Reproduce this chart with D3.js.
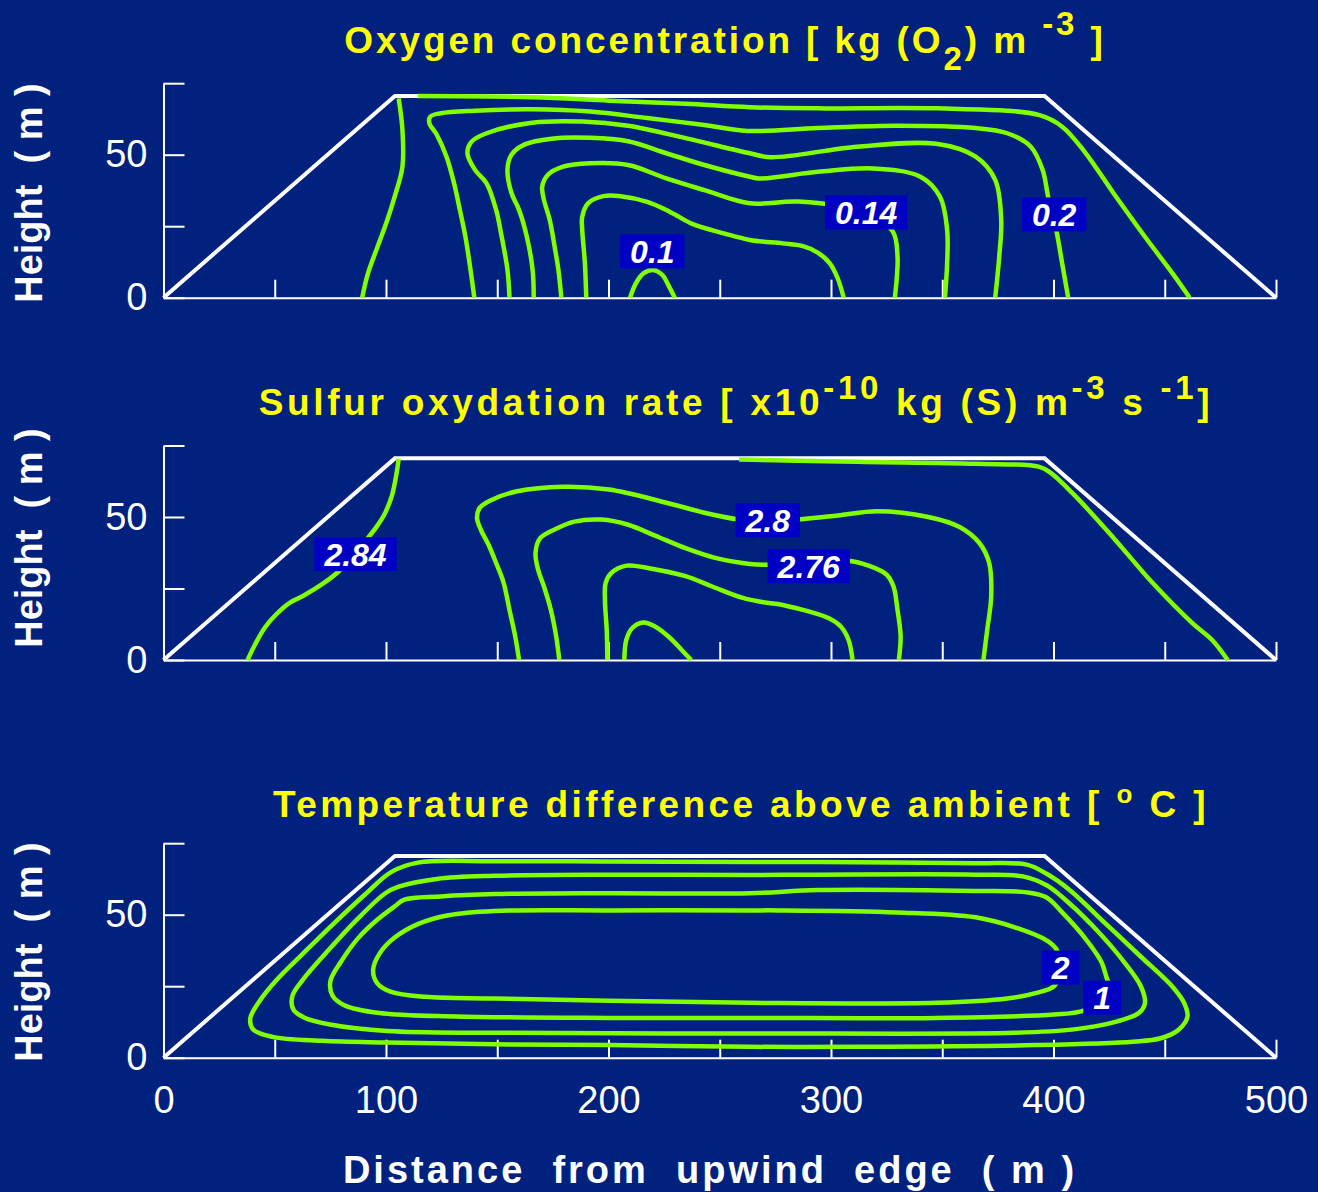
<!DOCTYPE html>
<html>
<head>
<meta charset="utf-8">
<script src="https://cdn.jsdelivr.net/npm/d3@7"></script>
<style>
  body { margin: 0; background: #00217e; }
  svg { display: block; font-family: "Liberation Sans", Arial, sans-serif; }
</style>
</head>
<body>
<svg id="chart" width="1318" height="1192"></svg>
<script>
// axes (distance / height in m)
const xTicks = [0, 50, 100, 150, 200, 250, 300, 350, 400, 450, 500];
const xTickLabels = [0, 100, 200, 300, 400, 500];
const yTicks = [0, 25, 50, 75];
const yTickLabels = [0, 50];

// pile cross section
const pileOutline = [[0, 0], [104, 70.5], [396, 70.5], [500, 0]];

// oxygen concentration contours
const oxA = [[89.3, 0], [91.9, 8.5], [96.2, 17.8], [100.6, 27.2], [103.9, 35.3], [107.4, 45.8], [107.4, 58.6], [105.7, 69.7]];
const oxB = [[114.3, 70.5], [165.9, 70.1], [200.2, 68.9], [234.6, 67.8], [263.5, 66.6], [294.2, 66.2], [347.3, 66.2], [393.3, 63.9], [403.9, 59.8], [414.5, 50.5], [427, 36.5], [441.1, 21.3], [453.5, 8.5], [461.2, 0]];
const oxC = [[139.7, 0], [138, 9.7], [135.7, 21.3], [133.2, 30.7], [130.6, 40], [127.2, 49.3], [122.9, 56.9], [119.5, 61], [119.9, 63.3], [124.6, 64.5], [140, 65.4], [165.7, 65.9], [191.7, 65.1], [217.4, 62.8], [243.1, 60.4], [262.3, 58.3], [294.2, 59.3], [329.6, 60.1], [365, 59.3], [379.2, 57.5], [389.8, 52.8], [395.1, 44.7], [397.7, 34.9], [401.3, 23.4], [403.9, 12], [406.6, 0]];
const oxD = [[155.5, 0], [154.6, 9.7], [152, 21.3], [149.5, 30.7], [145.2, 40], [140.1, 44.6], [136.6, 50.5], [138.4, 54.5], [145.2, 57.5], [165.7, 61.2], [188.2, 61.6], [208.8, 60.1], [234.6, 55.8], [263.5, 50.5], [272.9, 49.1], [311.8, 52.8], [347.3, 53.8], [365, 49.3], [373.8, 41.2], [376.5, 27.1], [375.6, 14.3], [373.8, 0]];
const oxE = [[166.4, 0], [165.9, 9.7], [163.3, 21.3], [159.8, 30.7], [156.4, 36.6], [154.6, 44.8], [156.4, 50], [162.4, 53.6], [174.4, 55.6], [191.7, 55.9], [208.8, 54.7], [226, 50.5], [243.1, 46.4], [263.5, 42.3], [267.6, 41.7], [294.2, 44], [318.9, 45.2], [340.2, 42.3], [349, 35.3], [352.2, 23.7], [352.2, 12.1], [351.2, 0]];
const oxF = [[178.8, 0], [177.5, 9.7], [175.8, 17.8], [173.6, 27.2], [171, 34.2], [170.2, 38.8], [172.7, 42.9], [179.6, 45.8], [191.7, 47], [208.8, 46.4], [226, 41.7], [243.1, 37.6], [263.5, 33], [285.3, 33.6], [315.1, 29.9], [327.8, 23.1], [329.9, 14.3], [329.6, 7.3], [328.7, 0]];
const oxG = [[190, 0], [189.4, 12], [188.2, 23.7], [188.2, 28.3], [190.8, 33], [197.7, 35.5], [205.4, 35.5], [217.4, 33.5], [227.7, 30], [237.9, 25.7], [251.8, 22.5], [263.5, 20.2], [278.2, 19], [287, 18.1], [294.2, 15.7], [299.5, 12], [303, 6.8], [305.7, 0]];
const oxDome = [[209.7, 0], [212.3, 5], [215.7, 8.5], [220, 9.7], [224.3, 7.9], [226.9, 4.4], [229.8, 0]];
const oxLabels = [['0.1', 219.7, 16.2], ['0.14', 315.8, 29.8], ['0.2', 400.3, 29.1]];

// sulfur oxydation rate contours
const soP = [[37.8, 0], [41.2, 5.5], [45.5, 11.3], [50.7, 16], [56.7, 20], [62.7, 22.4], [71.3, 26.5], [78.2, 30.6], [86, 36.8], [91.9, 42.7], [95.4, 46.2], [99.2, 50.8], [102.6, 57.3], [104.8, 65.5], [105.7, 70.4]];
const soQ = [[258.7, 70.1], [311.8, 69.3], [365, 68.6], [393.3, 67.6], [398.6, 65.5], [409.2, 57.8], [427, 42.7], [444.6, 26.9], [462.4, 12.9], [471.3, 7], [478.3, 0]];
const soR = [[159.8, 0], [158.1, 8.2], [155.5, 17.5], [152.9, 26.9], [149.5, 33.9], [146.1, 40.3], [142.6, 45.6], [140.9, 49.7], [142.1, 53.2], [146.9, 55.8], [159, 59], [179.6, 60.6], [200.2, 59.6], [226, 55], [243.1, 51.5], [258.7, 49.1], [271.6, 48.4], [285.3, 49.1], [303, 50.5], [320.7, 52], [343.7, 50], [357.8, 46.5], [366.7, 40.9], [371.1, 33.9], [372, 22.2], [370.2, 10.5], [368.5, 0]];
const soS = [[177.9, 0], [176.5, 8.2], [174.1, 17.5], [171, 25.7], [168.4, 31.5], [167.2, 37.4], [169.3, 42.6], [176.2, 45.8], [184.7, 48.4], [196.8, 49.1], [208.8, 47.3], [220.9, 43.5], [234.6, 39.1], [248.4, 35.6], [263.5, 33.6], [271.9, 33.3], [289.5, 34], [306.9, 34.8], [317.2, 32.9], [325.1, 29.8], [328.1, 25.7], [329.9, 17.5], [331.3, 8.2], [330.5, 0]];
const soT = [[199.5, 0], [199.2, 10.5], [198.4, 21], [198.7, 26.9], [201.2, 30.4], [208.1, 33], [217.6, 32.2], [234.6, 29.3], [246.6, 25.7], [260.4, 21.7], [272, 19.9], [276, 19.6], [299.1, 14.6], [304.4, 11.7], [307.9, 7], [309.7, 0]];
const soDome = [[207.1, 0], [208, 7], [210.6, 11.1], [215.7, 13.1], [220.9, 11.7], [227.8, 7.6], [232.9, 3.5], [237.2, 0]];
const soLabels = [['2.84', 86.3, 37], ['2.8', 271.6, 48.9], ['2.76', 290, 32.8]];

// temperature difference contours (closed)
const tL1 = [[263.5, 68.4], [200.2, 68.6], [148.6, 68.7], [114.3, 68.2], [102.3, 64.9], [90.2, 56.8], [76.5, 46.9], [62.7, 36.4], [50.7, 27.1], [42.9, 19.5], [39, 13.7], [40.3, 9.9], [48.9, 7.3], [71.3, 5.9], [100.6, 5.3], [148.6, 4.7], [200.2, 4.4], [263.5, 3.8], [311.8, 3.8], [391.5, 4.4], [435.8, 5.6], [448.2, 6.8], [456.1, 9.7], [460.2, 14.3], [458.8, 19], [453.5, 24.8], [439.3, 35.3], [423.4, 46.9], [407.5, 58.5], [396.9, 64.3], [388, 67.5], [365, 68], [294.2, 68.4]];
const tL2 = [[263.5, 63.9], [200.2, 64], [148.6, 63.6], [122.8, 62.5], [105.7, 59.8], [99.7, 57.5], [86.8, 48.2], [73, 36.6], [62.7, 27.3], [57.9, 21.5], [58.4, 16.8], [63.6, 13.9], [74.8, 11.6], [100.6, 9.3], [148.6, 8.7], [263.5, 8.5], [382.6, 8.7], [409.2, 9.9], [428.7, 12.7], [438.5, 15.7], [441.1, 19.1], [439.3, 24.9], [432.2, 33], [418, 45.8], [403.9, 56.2], [396.9, 60.3], [386.2, 63.4], [365, 64], [294.2, 64]];
const tL3 = [[263.5, 57.5], [200.2, 57.5], [148.6, 57.2], [124.6, 56.4], [108.2, 55.3], [103.9, 52.9], [96.2, 48.3], [87.6, 41.9], [79.9, 33.7], [75, 26.7], [76.1, 21.5], [81.6, 18.2], [97.1, 15.6], [131.5, 14.4], [200.2, 13.9], [263.5, 13.9], [347.3, 13.9], [400.4, 15.1], [412.4, 16.2], [428.7, 21.3], [424.3, 27.1], [421.6, 33.4], [414.5, 41.5], [403.9, 50.8], [396.9, 56], [388, 57.8], [365, 58.3], [294.2, 58.6]];
const tL4 = [[263.5, 51.5], [200.2, 51.5], [148.6, 51.3], [128, 49.8], [114.3, 46.7], [103.9, 42], [97.1, 36.4], [94.2, 30.6], [96.2, 25.9], [102.3, 23], [117.7, 21.3], [148.6, 20.7], [200.2, 19.9], [263.5, 19.2], [347.3, 19.2], [379.2, 20.7], [391.5, 22.5], [400.4, 25.1], [403.9, 31.7], [401.3, 37.9], [396.9, 41], [382.6, 45.6], [364.9, 49.1], [329.6, 50.8], [276.4, 51.5]];
const tempLabels = [['2', 403.2, 31.5], ['1', 421.9, 21]];

// titles: [text, 'n' | 'sub' | 'sup']
const oxTitle = [['Oxygen concentration [ kg (O', 'n'], ['2', 'sub'], [') m ', 'n'], ['-3', 'sup'], [' ]', 'n']];
const soTitle = [['Sulfur oxydation rate [ x10', 'n'], ['-10', 'sup'], [' kg (S) m', 'n'], ['-3', 'sup'], [' s ', 'n'], ['-1', 'sup'], [']', 'n']];
const tempTitle = [['Temperature difference above ambient [ ', 'n'], ['o', 'sup'], [' C ]', 'n']];

const green = '#80ff00';
const svg = d3.select('#chart');
const x = d3.scaleLinear().domain([0, 500]).range([163.5, 1276]);

const panels = [
  { base: 297.7, title: oxTitle, titleX: 725, titleY: 53, spacing: 2.9, supShift: -18, lines: [oxA, oxB, oxC, oxD, oxE, oxF, oxG, oxDome], loops: [], labels: oxLabels, yLabelY: 193 },
  { base: 660, title: soTitle, titleX: 736, titleY: 415, spacing: 3.7, supShift: -16, lines: [soP, soQ, soR, soS, soT, soDome], loops: [], labels: soLabels, yLabelY: 538 },
  { base: 1057.7, title: tempTitle, titleX: 741, titleY: 817, spacing: 3.4, supShift: -14, lines: [], loops: [tL1, tL2, tL3, tL4], labels: tempLabels, yLabelY: 952, xLabels: true }
];

svg.append('rect').attr('width', 1318).attr('height', 1192).attr('fill', '#00217e');

function drawPanel(p) {
  let g = svg.append('g').attr('class', 'panel');
  let y = d3.scaleLinear().domain([0, 75]).range([p.base, p.base - 214.5]);

  // axes
  let xAxis = g.append('g')
    .attr('transform', `translate(0,${p.base})`)
    .call(d3.axisBottom(x).tickValues(xTicks).tickSizeInner(-18).tickSizeOuter(0).tickPadding(28)
      .tickFormat(d => p.xLabels && xTickLabels.includes(d) ? d : ''));
  let yAxis = g.append('g')
    .attr('transform', `translate(${x(0)},0)`)
    .call(d3.axisLeft(y).tickValues(yTicks).tickSizeInner(-21).tickSizeOuter(0).tickPadding(16)
      .tickFormat(d => yTickLabels.includes(d) ? d : ''));
  [xAxis, yAxis].forEach(a => {
    a.attr('font-family', null).attr('font-size', null);
    a.selectAll('line, path').attr('stroke', '#fff').attr('stroke-width', 2);
    a.selectAll('text').attr('fill', '#fff').style('font-size', '38px');
  });

  // pile outline
  g.append('path')
    .datum(pileOutline)
    .attr('d', d3.line().x(d => x(d[0])).y(d => y(d[1])))
    .attr('fill', 'none')
    .attr('stroke', '#fff')
    .attr('stroke-width', 4);

  // contours
  let open = d3.line().x(d => x(d[0])).y(d => y(d[1])).curve(d3.curveCatmullRom.alpha(0.5));
  let closed = d3.line().x(d => x(d[0])).y(d => y(d[1])).curve(d3.curveCatmullRomClosed.alpha(0.5));
  g.selectAll('.contour')
    .data(p.lines)
    .enter().append('path')
    .attr('class', 'contour')
    .attr('d', open)
    .attr('fill', 'none').attr('stroke', green).attr('stroke-width', 4.5);
  g.selectAll('.loop')
    .data(p.loops)
    .enter().append('path')
    .attr('class', 'loop')
    .attr('d', closed)
    .attr('fill', 'none').attr('stroke', green).attr('stroke-width', 4.5);

  // contour labels
  p.labels.forEach(l => {
    let lg = g.append('g').attr('transform', `translate(${x(l[1])},${y(l[2])})`);
    let t = lg.append('text')
      .attr('text-anchor', 'middle')
      .attr('dy', '0.36em')
      .attr('fill', '#fff')
      .style('font-size', '32px').style('font-weight', 'bold').style('font-style', 'italic')
      .text(l[0]);
    let w = t.node().getComputedTextLength();
    lg.insert('rect', 'text')
      .attr('x', -w / 2 - 10).attr('y', -17)
      .attr('width', w + 20).attr('height', 34)
      .attr('fill', '#0000c4');
  });

  // title
  let title = svg.append('text')
    .attr('x', p.titleX).attr('y', p.titleY)
    .attr('text-anchor', 'middle')
    .attr('fill', '#ffff00')
    .style('font-size', '37px').style('font-weight', 'bold').style('letter-spacing', p.spacing + 'px')
    .attr('xml:space', 'preserve');
  let shift = 0;
  p.title.forEach(s => {
    let target = s[1] === 'sub' ? 17 : s[1] === 'sup' ? p.supShift : 0;
    title.append('tspan')
      .attr('dy', target - shift)
      .style('font-size', s[1] === 'n' ? '37px' : (s[1] === 'sup' && s[0] === 'o' ? '26px' : '33px'))
      .text(s[0]);
    shift = target;
  });

  // y label
  svg.append('text')
    .attr('transform', `translate(42,${p.yLabelY}) rotate(-90)`)
    .attr('text-anchor', 'middle')
    .attr('fill', '#fff')
    .attr('xml:space', 'preserve')
    .style('font-size', '38px').style('font-weight', 'bold')
    .text('Height  ( m )');
}

panels.forEach(drawPanel);

svg.append('text')
  .attr('x', 710).attr('y', 1183)
  .attr('text-anchor', 'middle')
  .attr('fill', '#fff')
  .attr('xml:space', 'preserve')
  .style('font-size', '38px').style('font-weight', 'bold').style('letter-spacing', '3px')
  .text('Distance  from  upwind  edge  ( m )');
</script>
</body>
</html>
